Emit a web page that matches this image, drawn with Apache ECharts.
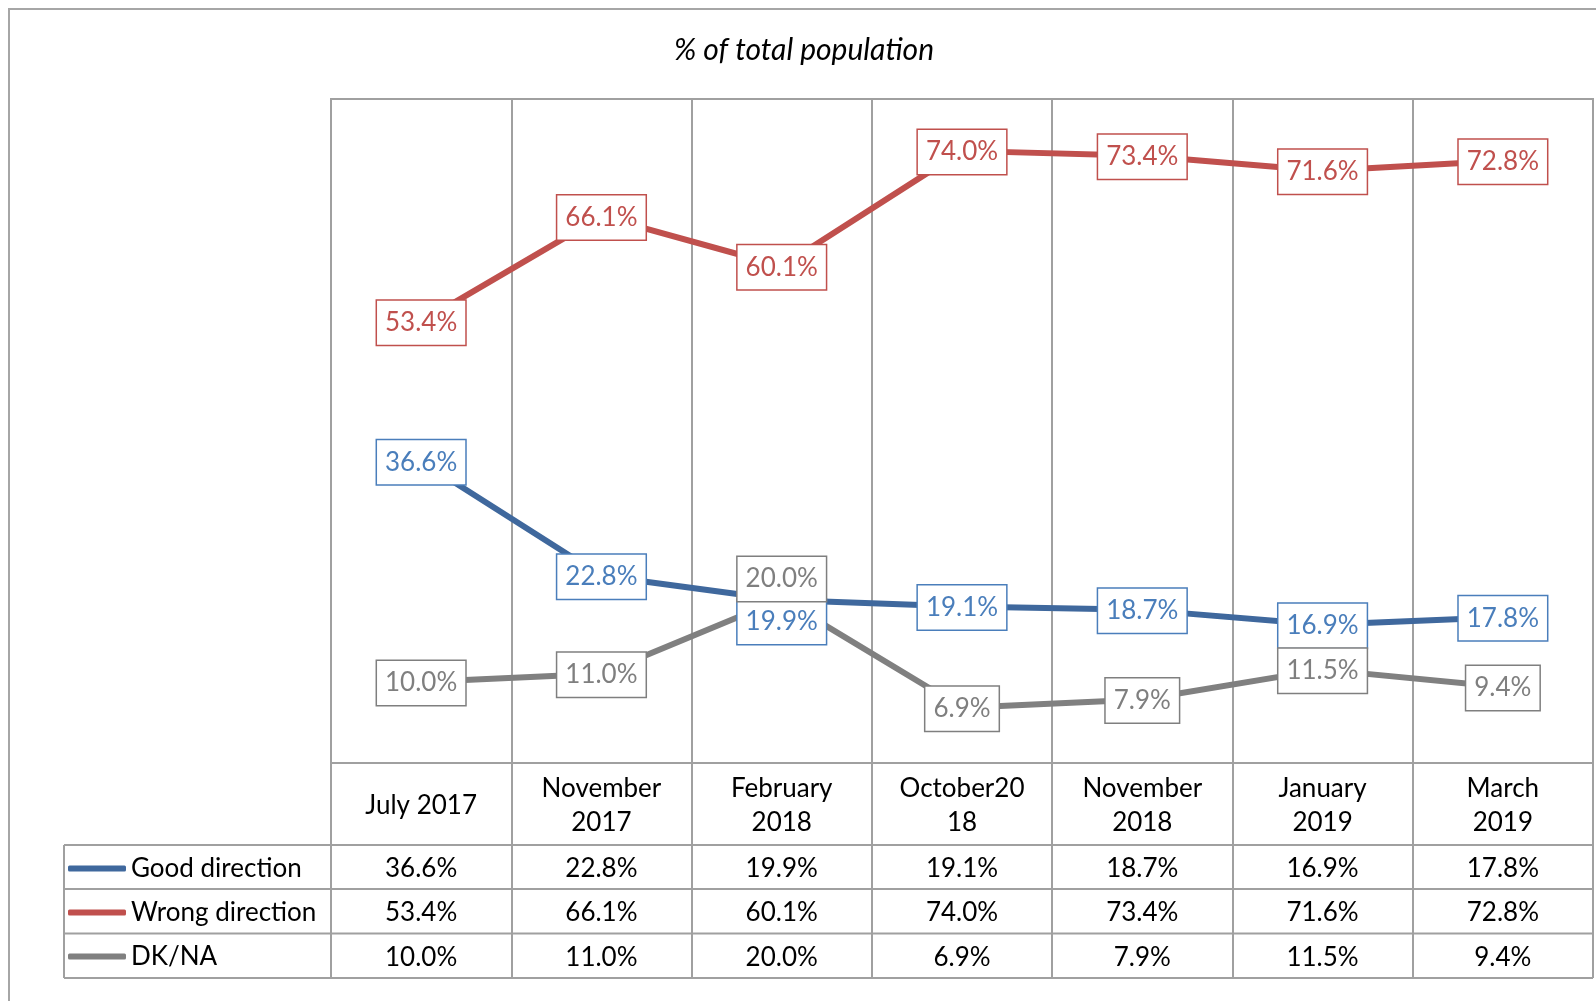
<!DOCTYPE html>
<html>
<head>
<meta charset="utf-8">
<script src="https://cdn.jsdelivr.net/npm/echarts@6/dist/echarts.min.js"></script>
<style>
  html, body { margin: 0; padding: 0; background: #fff; }
  #chart { width: 1596px; height: 1001px; }
</style>
</head>
<body>
<div id="chart"></div>
<script>
// data
const categories = ['July 2017', 'November\n2017', 'February\n2018', 'October20\n18', 'November\n2018', 'January\n2019', 'March\n2019']
const seriesNames = ['Good direction', 'Wrong direction', 'DK/NA']
const goodDirection = [36.6, 22.8, 19.9, 19.1, 18.7, 16.9, 17.8]
const wrongDirection = [53.4, 66.1, 60.1, 74.0, 73.4, 71.6, 72.8]
const dkNa = [10.0, 11.0, 20.0, 6.9, 7.9, 11.5, 9.4]

const FONT = 'Lato, "Open Sans", sans-serif'
const GRID = '#a0a0a0'

// layout of the plot + data table
const plot = { left: 331, top: 99, width: 1262, height: 664 }
const tableLeft = 64
const rowLines = [845, 889, 933.5, 978]

// line / label colours per series
const styles = [
  { line: '#3f689d', text: '#4a7ebb' },
  { line: '#c0504d', text: '#c0504d' },
  { line: '#808080', text: '#7f7f7f' }
]
// labels that Excel nudged apart (February 2018)
const labelShift = [{ 2: 21 }, {}, { 2: -21 }]

const values = [goodDirection, wrongDirection, dkNa]
const pct = (v) => v.toFixed(1) + '%'

const chart = echarts.init(document.getElementById('chart'))

const plotBottom = plot.top + plot.height

// one hidden axis per table row, only labels shown
const rowAxes = values.map((arr, k) => ({
  type: 'category',
  gridIndex: 0,
  position: 'bottom',
  data: categories,
  axisLine: { show: false, onZero: false },
  axisTick: { show: false },
  splitLine: { show: false },
  axisLabel: {
    interval: 0,
    margin: (rowLines[k] + rowLines[k + 1]) / 2 - plotBottom + 1.5,
    verticalAlign: 'middle',
    fontFamily: FONT,
    fontSize: 26,
    color: '#000',
    formatter: (v, i) => pct(arr[i])
  }
}))

const graphics = [
  {
    type: 'rect',
    shape: { x: 9, y: 9, width: 1700, height: 1100 },
    style: { fill: 'none', stroke: '#a6a6a6', lineWidth: 2 }
  },
  {
    type: 'text',
    x: 804,
    y: 50,
    style: {
      text: '% of total population',
      font: 'italic 30px ' + FONT,
      fill: '#000',
      align: 'center',
      verticalAlign: 'middle'
    }
  },
  {
    type: 'line',
    shape: { x1: tableLeft, y1: rowLines[0], x2: tableLeft, y2: rowLines[3] },
    style: { stroke: GRID, lineWidth: 2 }
  }
]
rowLines.forEach((y) => {
  graphics.push({
    type: 'line',
    shape: { x1: tableLeft, y1: y, x2: plot.left + plot.width, y2: y },
    style: { stroke: GRID, lineWidth: 2 }
  })
})

chart.setOption({
  animation: false,
  grid: {
    left: plot.left,
    top: plot.top,
    width: plot.width,
    height: plot.height,
    show: true,
    borderColor: GRID,
    borderWidth: 2,
    outerBoundsMode: 'none'
  },
  legend: {
    orient: 'vertical',
    left: 68,
    top: rowLines[0] + 1.5,
    padding: 0,
    itemGap: 0,
    itemWidth: 58,
    itemHeight: 6,
    icon: 'roundRect',
    selectedMode: false,
    data: seriesNames,
    textStyle: { fontFamily: FONT, fontSize: 26, color: '#000', lineHeight: 44 }
  },
  xAxis: [
    {
      type: 'category',
      data: categories,
      boundaryGap: true,
      axisLine: { show: false, onZero: false },
      axisTick: {
        show: true,
        interval: 0,
        length: rowLines[3] - plotBottom,
        lineStyle: { color: GRID, width: 2 }
      },
      splitLine: { show: true, interval: 0, lineStyle: { color: GRID, width: 2 } },
      axisLabel: {
        interval: 0,
        margin: (plotBottom + rowLines[0]) / 2 - plotBottom + 1.5,
        verticalAlign: 'middle',
        fontFamily: FONT,
        fontSize: 26,
        lineHeight: 34,
        color: '#000'
      }
    },
    ...rowAxes
  ],
  // Excel's zero sits a touch below the plot frame
  yAxis: { type: 'value', min: 0.25, max: 80.25, show: false },
  graphic: graphics,
  series: seriesNames.map((name, k) => ({
    name,
    type: 'line',
    data: values[k].map((v, i) => ({
      value: v,
      label: { offset: [0, 1 + (labelShift[k][i] || 0)] }
    })),
    symbol: 'circle',
    symbolSize: 1,
    itemStyle: { color: styles[k].line },
    lineStyle: { color: styles[k].line, width: 6, cap: 'round', join: 'round' },
    label: {
      show: true,
      position: 'inside',
      formatter: (p) => pct(p.value),
      fontFamily: FONT,
      fontSize: 26,
      lineHeight: 30,
      color: styles[k].text,
      backgroundColor: '#fff',
      borderColor: styles[k].text,
      borderWidth: 1.5,
      padding: [7, 8]
    }
  }))
})
</script>
</body>
</html>
